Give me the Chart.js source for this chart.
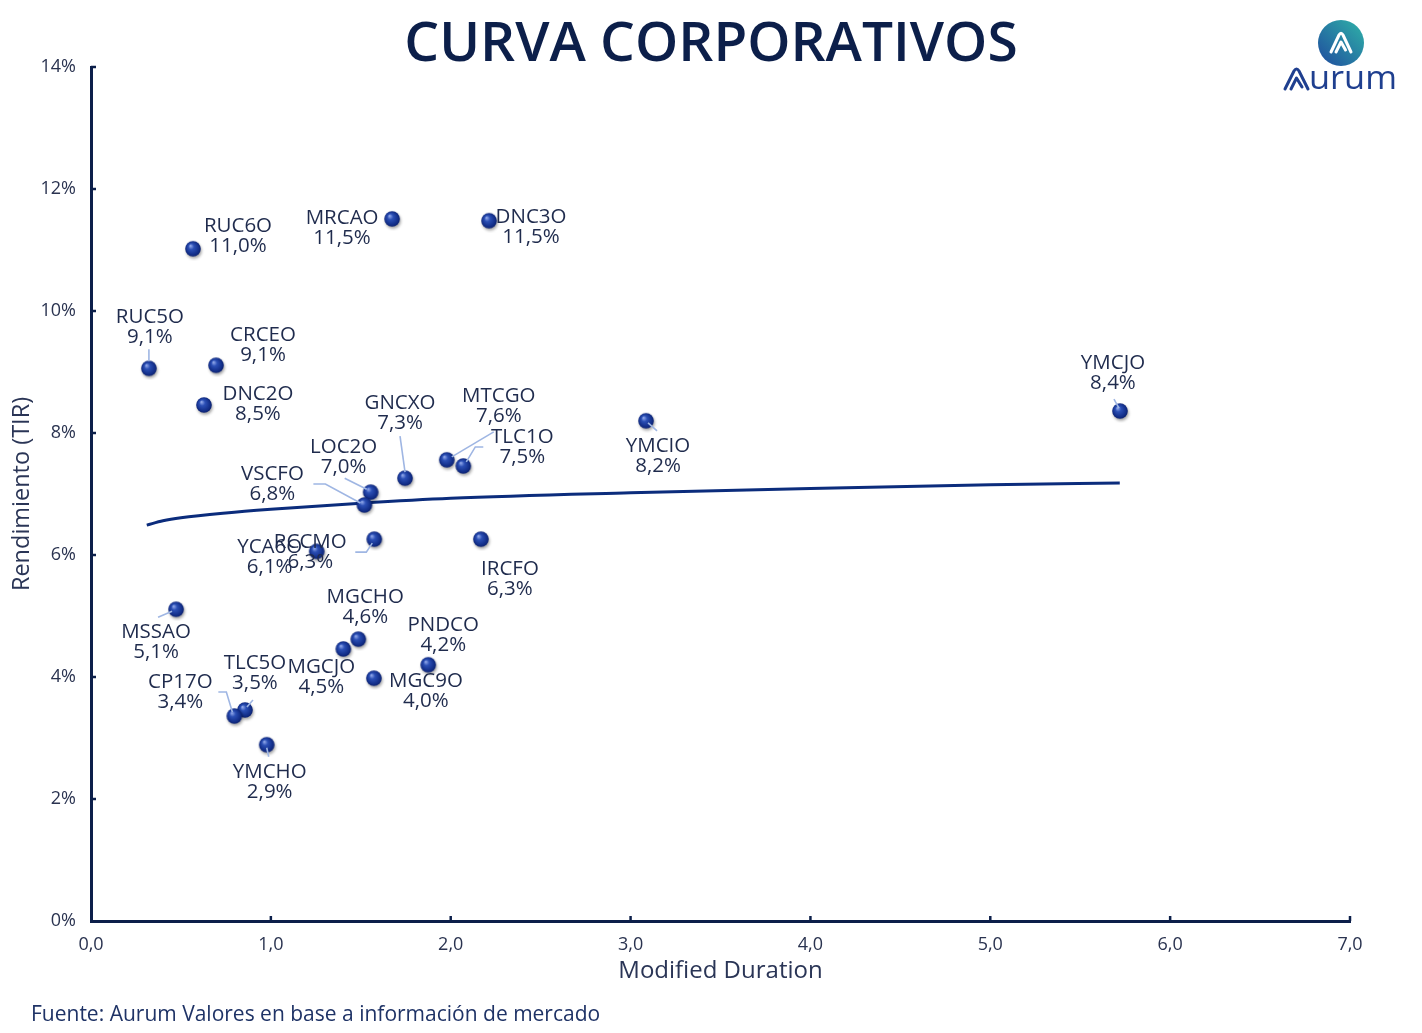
<!DOCTYPE html>
<html>
<head>
<meta charset="utf-8">
<script src="https://cdn.jsdelivr.net/npm/chart.js@4.4.1/dist/chart.umd.min.js"></script>
<style>
  html, body { margin: 0; padding: 0; background: #ffffff; }
  #wrap { position: relative; width: 1422px; height: 1033px; overflow: hidden; }
  #logo { position: absolute; left: 1278px; top: 18px; width: 130px; height: 80px; }
</style>
</head>
<body>
<div id="wrap">
  <canvas id="c" width="1422" height="1033"></canvas>
  <svg id="logo" viewBox="0 0 130 80" xmlns="http://www.w3.org/2000/svg">
    <defs>
      <linearGradient id="lg" x1="1" y1="0" x2="0" y2="1">
        <stop offset="0" stop-color="#2fb3a8"/>
        <stop offset="1" stop-color="#1f4a9e"/>
      </linearGradient>
    </defs>
    <circle cx="63" cy="25" r="23" fill="url(#lg)"/>
    <path d="M53 34 L61 17 Q63 13.5 65 17 L73 34 M58 34 L63 24 L67.5 32" fill="none" stroke="#ffffff" stroke-width="3" stroke-linecap="round" stroke-linejoin="round"/>
    <path d="M7 71 L16 53 Q18.5 49 21 53 L30 71 M13 71 L18.5 60 L24 69" fill="none" stroke="#1f3f8f" stroke-width="3" stroke-linecap="round" stroke-linejoin="round"/>
    <text x="31" y="71" font-family="Open Sans, sans-serif" font-size="33" fill="#1f3f8f" textLength="88" lengthAdjust="spacingAndGlyphs">urum</text>
  </svg>
</div>
<script>
// ---------------- DATA ----------------
const bonds = ["RUC6O","MRCAO","DNC3O","RUC5O","CRCEO","DNC2O","GNCXO","MTCGO","TLC1O","LOC2O","VSCFO","YMCIO","YMCJO","RCCMO","YCA6O","IRCFO","MSSAO","MGCHO","MGCJO","PNDCO","MGC9O","TLC5O","CP17O","YMCHO"];
const duration = [0.567,1.674,2.213,0.322,0.695,0.628,1.746,1.978,2.070,1.555,1.520,3.086,5.721,1.575,1.255,2.168,0.473,1.486,1.403,1.875,1.573,0.856,0.797,0.977];
const yields = [11.02,11.51,11.48,9.06,9.11,8.46,7.26,7.56,7.46,7.03,6.82,8.20,8.36,6.26,6.06,6.26,5.11,4.62,4.46,4.20,3.98,3.46,3.36,2.89];
const trendDuration = [0.31,0.4,0.5,0.75,1.0,1.5,2.0,3.0,4.0,5.0,5.72];
const trendYield = [6.49,6.56,6.61,6.69,6.75,6.85,6.93,7.02,7.09,7.15,7.18];
const yTickLabels = ["0%","2%","4%","6%","8%","10%","12%","14%"];
const xTickLabels = ["0,0","1,0","2,0","3,0","4,0","5,0","6,0","7,0"];

// ---------------- LABEL LAYOUT (pixel offsets from each point) ----------------
const labelLayout = {
  RUC6O: {dx:45, dy:-23},
  MRCAO: {dx:-50, dy:-1},
  DNC3O: {dx:42, dy:-4},
  RUC5O: {dx:1, dy:-51, leader:[[0,-19],[0,-7]]},
  CRCEO: {dx:47, dy:-30},
  DNC2O: {dx:54, dy:-11},
  GNCXO: {dx:-5, dy:-75, leader:[[-5,-42],[0,-6]]},
  MTCGO: {dx:52, dy:-64, leader:[[47,-28],[5,-3]]},
  TLC1O: {dx:59, dy:-29, leader:[[20,-19],[12,-19],[3,-4]]},
  LOC2O: {dx:-27, dy:-45, leader:[[-26,-14],[-4,-3]]},
  VSCFO: {dx:-92, dy:-31, leader:[[-51,-21],[-39,-21],[-4,-2]]},
  YMCIO: {dx:12, dy:25, leader:[[2,2],[11,10]]},
  YMCJO: {dx:-7, dy:-48, leader:[[-6,-12],[-1,-3]]},
  RCCMO: {dx:-64, dy:3, leader:[[-19,13],[-8,13],[-2,4]]},
  YCA6O: {dx:-47, dy:-4},
  IRCFO: {dx:29, dy:30},
  MSSAO: {dx:-20, dy:23, leader:[[-18,8],[-4,2]]},
  MGCHO: {dx:7, dy:-42},
  MGCJO: {dx:-22, dy:18},
  PNDCO: {dx:15, dy:-40},
  MGC9O: {dx:52, dy:3},
  TLC5O: {dx:10, dy:-47, leader:[[8,-10],[2,-3]]},
  CP17O: {dx:-54, dy:-34, leader:[[-16,-24],[-8,-24],[-2,-4]]},
  YMCHO: {dx:3, dy:27, leader:[[0,3],[2,12]]}
};

const FONT = "'Open Sans', 'Noto Sans', sans-serif";
const NAVY = "#0c1f4a";
const TEXT = "#1f2b4d";

// sphere marker
function makeSphere() {
  const c = document.createElement('canvas');
  c.width = 24; c.height = 24;
  const g = c.getContext('2d');
  g.save();
  g.shadowColor = 'rgba(0,0,0,0.35)';
  g.shadowBlur = 3;
  g.shadowOffsetX = 1;
  g.shadowOffsetY = 2;
  const grad = g.createRadialGradient(9.5, 9, 0.5, 12, 12, 8.5);
  grad.addColorStop(0, '#8aa2e6');
  grad.addColorStop(0.3, '#2b4fb5');
  grad.addColorStop(0.75, '#132f8a');
  grad.addColorStop(1, '#0a1d66');
  g.fillStyle = grad;
  g.beginPath();
  g.arc(12, 12, 7.8, 0, Math.PI * 2);
  g.fill();
  g.restore();
  return c;
}
const sphere = makeSphere();

const scatterData = bonds.map((b, i) => ({x: duration[i], y: yields[i], name: b}));
const trendData = trendDuration.map((d, i) => ({x: d, y: trendYield[i]}));

const overlay = {
  id: 'overlay',
  afterDraw(chart) {
    const ctx = chart.ctx;
    const xs = chart.scales.x, ys = chart.scales.y;
    const area = chart.chartArea;
    ctx.save();
    // inward tick marks
    ctx.strokeStyle = NAVY;
    ctx.lineWidth = 2.5;
    for (let v = 1; v <= 7; v++) {
      const px = xs.getPixelForValue(v);
      ctx.beginPath(); ctx.moveTo(px, area.bottom); ctx.lineTo(px, area.bottom - 5); ctx.stroke();
    }
    for (let v = 2; v <= 14; v += 2) {
      const py = ys.getPixelForValue(v);
      ctx.beginPath(); ctx.moveTo(area.left, py); ctx.lineTo(area.left + 5, py); ctx.stroke();
    }
    // title
    ctx.fillStyle = NAVY;
    ctx.font = "600 55px " + FONT;
    ctx.textAlign = 'center';
    ctx.textBaseline = 'alphabetic';
    ctx.fillText("CURVA CORPORATIVOS", 711, 61);
    // footer
    ctx.fillStyle = "#1f3366";
    ctx.font = "400 21px " + FONT;
    ctx.textAlign = 'left';
    ctx.fillText("Fuente: Aurum Valores en base a información de mercado", 31, 1021);
    ctx.restore();
  },
  afterDatasetsDraw(chart) {
    const ctx = chart.ctx;
    const meta = chart.getDatasetMeta(1);
    ctx.save();
    // leader lines
    ctx.strokeStyle = '#9fb6e3';
    ctx.lineWidth = 1.6;
    meta.data.forEach((pt, i) => {
      const lay = labelLayout[bonds[i]];
      if (lay && lay.leader) {
        ctx.beginPath();
        lay.leader.forEach((p, k) => {
          const X = pt.x + p[0], Y = pt.y + p[1];
          if (k === 0) ctx.moveTo(X, Y); else ctx.lineTo(X, Y);
        });
        ctx.stroke();
      }
    });
    // labels
    ctx.fillStyle = TEXT;
    ctx.font = "400 20.5px " + FONT;
    ctx.textAlign = 'center';
    ctx.textBaseline = 'middle';
    meta.data.forEach((pt, i) => {
      const lay = labelLayout[bonds[i]] || {dx: 0, dy: -30};
      const X = pt.x + lay.dx, Y = pt.y + lay.dy;
      ctx.fillText(bonds[i], X, Y);
      ctx.fillText(yields[i].toFixed(1).replace('.', ',') + '%', X, Y + 20);
    });
    ctx.restore();
  }
};

new Chart(document.getElementById('c'), {
  type: 'scatter',
  data: {
    datasets: [
      {
        type: 'line',
        label: 'Curva',
        data: trendData,
        borderColor: '#0b2c7c',
        borderWidth: 3,
        pointRadius: 0,
        fill: false,
        cubicInterpolationMode: 'monotone',
        order: 2
      },
      {
        label: 'Bonos',
        data: scatterData,
        pointStyle: sphere,
        pointRadius: 8,
        pointHoverRadius: 8,
        order: 1
      }
    ]
  },
  options: {
    responsive: false,
    animation: false,
    events: [],
    layout: { padding: { top: 67, right: 72, bottom: 40, left: 0 } },
    plugins: { legend: { display: false }, tooltip: { enabled: false }, title: { display: false } },
    scales: {
      x: {
        type: 'linear',
        min: 0, max: 7,
        afterFit(s) { s.height = 72; },
        grid: { display: false, drawTicks: false },
        border: { display: true, color: NAVY, width: 3 },
        ticks: {
          stepSize: 1,
          padding: 13,
          color: '#2a3350',
          font: { family: FONT, size: 18 },
          callback: (v) => xTickLabels[Math.round(v)]
        },
        title: {
          display: true,
          text: 'Modified Duration',
          color: '#2a3556',
          font: { family: FONT, size: 24 },
          padding: { top: 0, bottom: 7 }
        }
      },
      y: {
        type: 'linear',
        min: 0, max: 14,
        afterFit(s) { s.width = 91; },
        grid: { display: false, drawTicks: false },
        border: { display: true, color: NAVY, width: 3 },
        ticks: {
          stepSize: 2,
          padding: 15,
          color: '#2a3350',
          font: { family: FONT, size: 18 },
          callback: (v) => yTickLabels[Math.round(v / 2)]
        },
        title: {
          display: true,
          text: 'Rendimiento (TIR)',
          color: '#2a3556',
          font: { family: FONT, size: 23.5 },
          padding: { top: 8, bottom: 0 }
        }
      }
    }
  },
  plugins: [overlay]
});
</script>
</body>
</html>
